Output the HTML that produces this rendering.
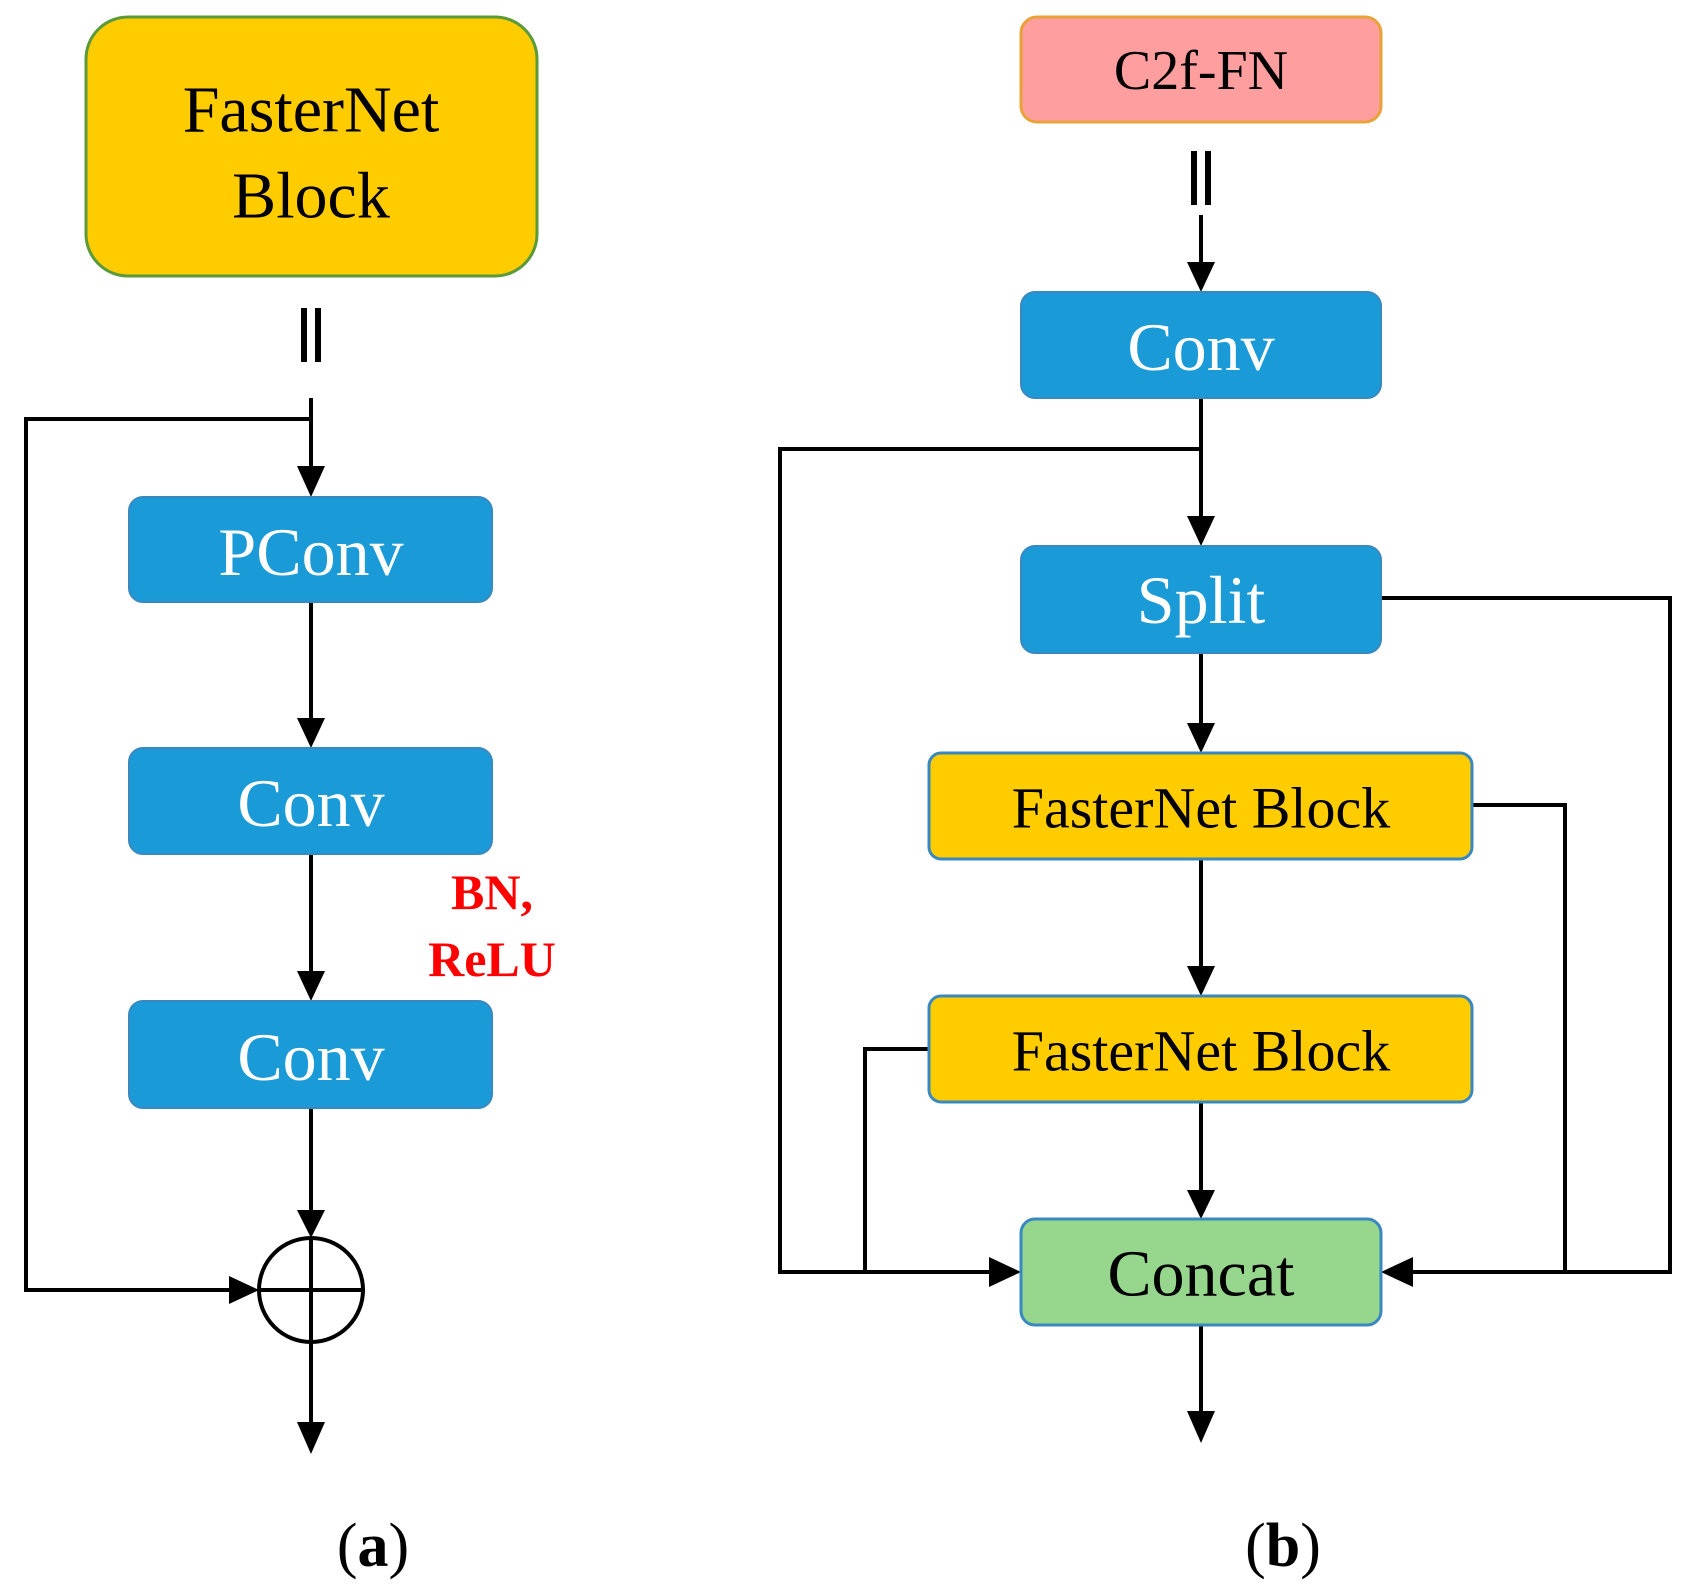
<!DOCTYPE html>
<html><head><meta charset="utf-8"><style>
html,body{margin:0;padding:0;background:#fff;}
svg{display:block}
text{font-family:"Liberation Serif",serif;text-anchor:middle;dominant-baseline:central;}
</style></head><body>
<svg width="1687" height="1593" viewBox="0 0 1687 1593" xmlns="http://www.w3.org/2000/svg">
<g stroke="#000" stroke-width="4" fill="none">
<line x1="304" y1="308" x2="304" y2="362" stroke-width="6"/><line x1="318" y1="308" x2="318" y2="362" stroke-width="6"/>
<path d="M311,398 V470"/>
<path d="M311,419 H26 V1290 H235"/>
<path d="M311,602 V720"/><path d="M311,854 V975"/><path d="M311,1108 V1212"/>
<circle cx="311" cy="1290" r="52"/>
<line x1="259" y1="1290" x2="363" y2="1290"/><line x1="311" y1="1238" x2="311" y2="1342"/>
<path d="M311,1342 V1425"/>
</g>
<g fill="#000">
<path d="M297,466 L325,466 L311,497z"/>
<path d="M297,718 L325,718 L311,748z"/>
<path d="M297,971 L325,971 L311,1001z"/>
<path d="M297,1210 L325,1210 L311,1238z"/>
<path d="M229,1276 L229,1304 L259,1290z"/>
<path d="M297,1422 L325,1422 L311,1454z"/>
</g>
<rect x="86" y="17" width="451" height="259" rx="42" fill="#FFCC00" stroke="#5a9a3a" stroke-width="3"/>
<text x="311" y="110" font-size="66">FasterNet</text>
<text x="311" y="196" font-size="66">Block</text>
<g fill="#1A9AD6" stroke="#3a88c0" stroke-width="2">
<rect x="129" y="497" width="363" height="105" rx="14"/>
<rect x="129" y="748" width="363" height="106" rx="14"/>
<rect x="129" y="1001" width="363" height="107" rx="14"/>
</g>
<g fill="#fff" font-size="68">
<text x="311" y="552">PConv</text>
<text x="311" y="803">Conv</text>
<text x="311" y="1057">Conv</text>
</g>
<text x="492" y="892" font-size="50" font-weight="bold" fill="#FF0000">BN,</text>
<text x="492" y="959" font-size="50" font-weight="bold" fill="#FF0000">ReLU</text>

<g transform="translate(-6,0)">
<g stroke="#000" stroke-width="4" fill="none">
<line x1="1200" y1="151" x2="1200" y2="205" stroke-width="6"/><line x1="1214" y1="151" x2="1214" y2="205" stroke-width="6"/>
<path d="M1207,215 V265"/>
<path d="M1207,398 V520"/>
<path d="M1207,449 H786 V1272 H998"/>
<path d="M1207,653 V726"/><path d="M1207,859 V970"/><path d="M1207,1102 V1192"/>
<path d="M1387,598 H1676 V1272 H1416"/>
<path d="M1478,805 H1571 V1272"/>
<path d="M935,1049 H871 V1272"/>
<path d="M1207,1325 V1415"/>
</g>
<g fill="#000">
<path d="M1193,262 L1221,262 L1207,292z"/>
<path d="M1193,516 L1221,516 L1207,546z"/>
<path d="M1193,723 L1221,723 L1207,753z"/>
<path d="M1193,966 L1221,966 L1207,996z"/>
<path d="M1193,1190 L1221,1190 L1207,1219z"/>
<path d="M995,1257 L995,1287 L1027,1272z"/>
<path d="M1419,1257 L1419,1287 L1387,1272z"/>
<path d="M1193,1411 L1221,1411 L1207,1443z"/>
</g>
<g fill="#1A9AD6" stroke="#3a88c0" stroke-width="2">
<rect x="1027" y="292" width="360" height="106" rx="14"/>
<rect x="1027" y="546" width="360" height="107" rx="14"/>
</g>
<g fill="#fff" font-size="68">
<text x="1207" y="347">Conv</text>
<text x="1207" y="600">Split</text>
</g>
<rect x="1027" y="17" width="360" height="105" rx="16" fill="#FF9E9E" stroke="#E8A23A" stroke-width="3"/>
<text x="1207" y="71" font-size="56">C2f-FN</text>
<rect x="935" y="753" width="543" height="106" rx="12" fill="#FFCC00" stroke="#3a88c0" stroke-width="3"/>
<text x="1207" y="808" font-size="58">FasterNet Block</text>
<rect x="935" y="996" width="543" height="106" rx="12" fill="#FFCC00" stroke="#3a88c0" stroke-width="3"/>
<text x="1207" y="1051" font-size="58">FasterNet Block</text>
<rect x="1027" y="1219" width="360" height="106" rx="14" fill="#97D68D" stroke="#3a88c0" stroke-width="3"/>
<text x="1207" y="1274" font-size="66">Concat</text>
</g>
<text x="373" y="1546" font-size="62">(<tspan font-weight="bold">a</tspan>)</text>
<text x="1283" y="1546" font-size="62">(<tspan font-weight="bold">b</tspan>)</text>
</svg>
</body></html>
